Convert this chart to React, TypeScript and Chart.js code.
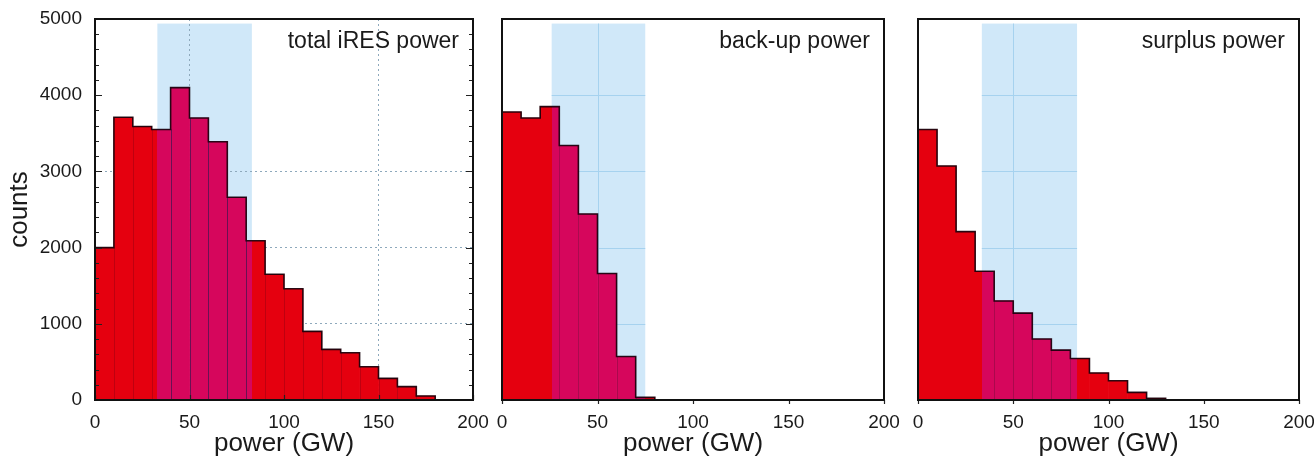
import React, { useEffect, useRef } from 'react';
import { Chart, registerables } from 'chart.js';

Chart.register(...registerables);

// ---- data ----
const BIN_CENTERS = [5, 15, 25, 35, 45, 55, 65, 75, 85, 95, 105, 115, 125, 135, 145, 155, 165, 175, 185, 195];
const TOTAL_IRES = [2000, 3710, 3590, 3550, 4100, 3700, 3390, 2660, 2090, 1650, 1460, 900, 665, 620, 437, 284, 175, 52, 0, 0];
const BACKUP = [3780, 3700, 3850, 3340, 2440, 1660, 570, 35, 0, 0, 0, 0, 0, 0, 0, 0, 0, 0, 0, 0];
const SURPLUS = [3550, 3070, 2210, 1690, 1300, 1140, 800, 655, 545, 354, 253, 100, 21, 0, 0, 0, 0, 0, 0, 0];
const X_TICKS = [0, 50, 100, 150, 200];
const Y_TICKS = [0, 1000, 2000, 3000, 4000, 5000];
const Y_MINOR_STEP = 200;
const PANEL_TITLES = ['total iRES power', 'back-up power', 'surplus power'];
const BAND_RANGES = [[33, 83], [26, 75], [33.5, 83.5]];
const BAND_TOP = 4940;
const GRID_X_P1 = [50, 150];
const GRID_Y_P1 = [1000, 2000, 3000];
const SERIES = [TOTAL_IRES, BACKUP, SURPLUS];

// ---- styles ----
const FONT = "'Liberation Sans', Arial, Helvetica, sans-serif";
const RED = '#e5000f';
const MAGENTA = '#d6065c';
const BAND_COLOR = '#d0e8f9';
const BAND_LINE = '#a6d2ef';
const PANELS = [
  { left: 0, width: 500, pad: { left: 0, right: 27, top: 19, bottom: 0 }, yAxis: true },
  { left: 470, width: 440, pad: { left: 32, right: 26, top: 19, bottom: 0 }, yAxis: false },
  { left: 890, width: 424, pad: { left: 28, right: 15, top: 19, bottom: 0 }, yAxis: false },
];

function makeFill(chart: any, i: number) {
  const area = chart.chartArea;
  const xs = chart.scales.x;
  if (!area || !xs) return RED;
  const [b0, b1] = BAND_RANGES[i];
  const l = area.left, r = area.right;
  const f1 = Math.min(1, Math.max(0, (xs.getPixelForValue(b0) - l) / (r - l)));
  const f2 = Math.min(1, Math.max(0, (xs.getPixelForValue(b1) - l) / (r - l)));
  const g = chart.ctx.createLinearGradient(l, 0, r, 0);
  g.addColorStop(0, RED);
  g.addColorStop(f1, RED);
  g.addColorStop(f1, MAGENTA);
  g.addColorStop(f2, MAGENTA);
  g.addColorStop(f2, RED);
  g.addColorStop(1, RED);
  return g;
}

function makePlugin(i: number) {
  return {
    id: 'panelDeco' + i,
    beforeDraw(chart: any) {
      const { ctx, scales } = chart;
      const x = scales.x, y = scales.y;
      const [b0, b1] = BAND_RANGES[i];
      const xl = x.getPixelForValue(b0), xr = x.getPixelForValue(b1);
      const yt = y.getPixelForValue(BAND_TOP), yb = y.getPixelForValue(0);
      ctx.save();
      ctx.fillStyle = BAND_COLOR;
      ctx.fillRect(xl, yt, xr - xl, yb - yt);
      if (i > 0) {
        ctx.strokeStyle = BAND_LINE;
        ctx.lineWidth = 1;
        ctx.beginPath();
        Y_TICKS.forEach((v) => {
          if (v <= 0 || v >= BAND_TOP) return;
          const py = Math.round(y.getPixelForValue(v)) + 0.5;
          ctx.moveTo(xl, py);
          ctx.lineTo(xr, py);
        });
        X_TICKS.forEach((v) => {
          if (v <= b0 || v >= b1) return;
          const px = Math.round(x.getPixelForValue(v)) + 0.5;
          ctx.moveTo(px, yt);
          ctx.lineTo(px, yb);
        });
        ctx.stroke();
      }
      ctx.restore();
    },
    afterDatasetsDraw(chart: any) {
      const { ctx, chartArea: a, scales } = chart;
      const x = scales.x, y = scales.y;
      ctx.save();
      // faint dividers between bins inside the band
      const bars = chart.getDatasetMeta(0).data as any[];
      const base = y.getPixelForValue(0);
      const [b0, b1] = BAND_RANGES[i];
      const xl = x.getPixelForValue(b0), xr = x.getPixelForValue(b1);
      ctx.lineWidth = 1;
      bars.forEach((b: any, k: number) => {
        if (k === 0) return;
        const px = Math.round(b.x - b.width / 2) + 0.5;
        const prev = bars[k - 1];
        const top = Math.max(b.y, prev.y);
        if (SERIES[i][k] <= 0 && SERIES[i][k - 1] <= 0) return;
        const inBand = px > xl && px < xr;
        ctx.strokeStyle = inBand
          ? (i === 0 ? 'rgba(70,20,80,0.75)' : 'rgba(120,10,60,0.45)')
          : (i === 0 ? 'rgba(120,0,20,0.35)' : 'rgba(0,0,0,0)');
        ctx.beginPath();
        ctx.moveTo(px, top);
        ctx.lineTo(px, base);
        ctx.stroke();
      });
      // step outline along the bar tops
      ctx.strokeStyle = 'rgba(20,0,10,0.9)';
      ctx.lineWidth = 1.6;
      ctx.beginPath();
      bars.forEach((b: any, k: number) => {
        const l = b.x - b.width / 2, r = b.x + b.width / 2;
        const h = SERIES[i][k];
        const top = h > 0 ? b.y : base;
        if (k === 0) ctx.moveTo(l, top);
        else ctx.lineTo(l, top);
        ctx.lineTo(r, top);
      });
      ctx.stroke();
      // inner ticks
      ctx.strokeStyle = '#222';
      ctx.lineWidth = 1.2;
      ctx.beginPath();
      if (i === 0) {
        for (let v = 0; v <= 5000; v += Y_MINOR_STEP) {
          const py = Math.round(y.getPixelForValue(v)) + 0.5;
          const len = v % 1000 === 0 ? 7 : 4;
          ctx.moveTo(a.left, py);
          ctx.lineTo(a.left + len, py);
          ctx.moveTo(a.right, py);
          ctx.lineTo(a.right - len, py);
        }
        X_TICKS.forEach((v) => {
          const px = Math.round(x.getPixelForValue(v)) + 0.5;
          ctx.moveTo(px, a.bottom);
          ctx.lineTo(px, a.bottom - 5);
        });
      } else {
        X_TICKS.forEach((v) => {
          const px = Math.round(x.getPixelForValue(v)) + 0.5;
          ctx.moveTo(px, a.bottom);
          ctx.lineTo(px, a.bottom + 4);
        });
      }
      ctx.stroke();
      // frame
      ctx.strokeStyle = '#111';
      ctx.lineWidth = 2;
      ctx.strokeRect(a.left, a.top, a.right - a.left, a.bottom - a.top);
      // panel title
      ctx.fillStyle = '#1a1a1a';
      ctx.font = '23px ' + FONT;
      ctx.textAlign = 'right';
      ctx.textBaseline = 'middle';
      ctx.fillText(PANEL_TITLES[i], a.right - 14, a.top + 23);
      ctx.restore();
    },
  };
}

function Panel({ i }: { i: number }) {
  const ref = useRef<HTMLCanvasElement | null>(null);
  const p = PANELS[i];
  useEffect(() => {
    if (!ref.current) return;
    const data = BIN_CENTERS.map((c, k) => ({ x: c, y: SERIES[i][k] }));
    const chart = new Chart(ref.current, {
      type: 'bar',
      data: {
        datasets: [
          {
            data,
            backgroundColor: (c: any) => makeFill(c.chart, i),
            borderWidth: 0,
            barPercentage: 1,
            categoryPercentage: 1,
          } as any,
        ],
      },
      options: {
        animation: false,
        responsive: false,
        maintainAspectRatio: false,
        devicePixelRatio: 1,
        layout: { padding: p.pad },
        plugins: { legend: { display: false }, tooltip: { enabled: false }, title: { display: false } },
        scales: {
          x: {
            type: 'linear',
            min: 0,
            max: 200,
            offset: false,
            grid: {
              display: i === 0,
              offset: false,
              drawTicks: false,
              color: (c: any) => (c.tick && GRID_X_P1.includes(c.tick.value) ? '#8ea9bc' : 'rgba(0,0,0,0)'),
              lineWidth: 1,
            },
            border: { display: false, dash: [2, 3] },
            ticks: {
              stepSize: 50,
              padding: 11,
              color: '#1a1a1a',
              font: { size: 19, family: FONT },
              maxRotation: 0,
              callback: (v: any) => String(v),
            },
            title: {
              display: true,
              text: 'power (GW)',
              color: '#1a1a1a',
              font: { size: 26, family: FONT, lineHeight: 1.2 },
              padding: { top: 0, bottom: 9 },
            },
            afterFit: (s: any) => {
              s.height = 68;
              s.paddingLeft = 0;
              s.paddingRight = 0;
            },
          } as any,
          y: {
            type: 'linear',
            min: 0,
            max: 5000,
            display: p.yAxis,
            grid: {
              display: i === 0,
              drawTicks: false,
              color: (c: any) => (c.tick && GRID_Y_P1.includes(c.tick.value) ? '#8ea9bc' : 'rgba(0,0,0,0)'),
              lineWidth: 1,
            },
            border: { display: false, dash: [2, 3] },
            ticks: {
              stepSize: 1000,
              padding: 13,
              color: '#1a1a1a',
              font: { size: 19, family: FONT },
              callback: (v: any) => String(v),
            },
            title: {
              display: p.yAxis,
              text: 'counts',
              color: '#1a1a1a',
              font: { size: 26, family: FONT, lineHeight: 1.2 },
              padding: { top: 4, bottom: 0 },
            },
            afterFit: (s: any) => {
              if (p.yAxis) s.width = 95;
              s.paddingTop = 0;
              s.paddingBottom = 0;
            },
          } as any,
        },
      },
      plugins: [makePlugin(i)],
    });
    return () => chart.destroy();
  }, [i]);
  return (
    <canvas
      ref={ref}
      width={p.width}
      height={468}
      style={{ position: 'absolute', left: p.left, top: 0, width: p.width, height: 468 }}
    />
  );
}

export default function App() {
  return (
    <div style={{ position: 'fixed', left: 0, top: 0, width: 1314, height: 468, background: '#ffffff', overflow: 'hidden' }}>
      <Panel i={0} />
      <Panel i={1} />
      <Panel i={2} />
    </div>
  );
}
